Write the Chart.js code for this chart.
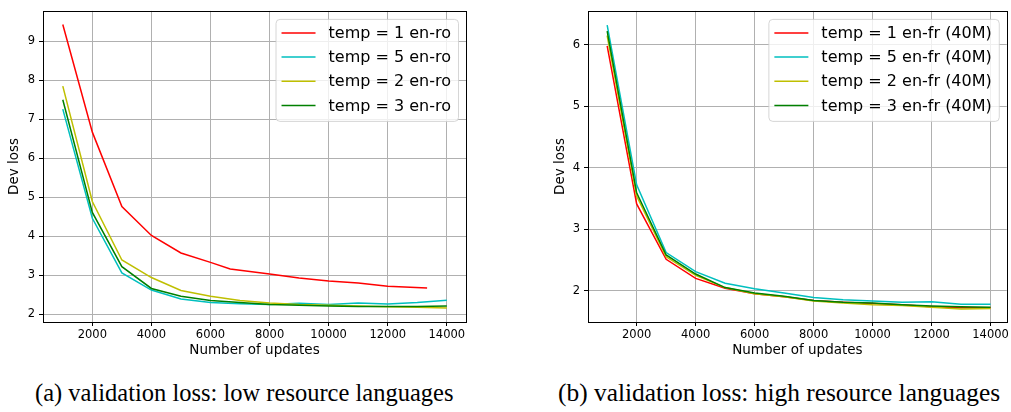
<!DOCTYPE html>
<html>
<head>
<meta charset="utf-8">
<script src="https://cdn.jsdelivr.net/npm/chart.js@4.4.0/dist/chart.umd.min.js"></script>
<style>
  body { margin: 0; background: #fff; width: 1011px; height: 412px; overflow: hidden; position: relative; }
  .plot { position: absolute; top: 0; height: 365px; }
  #plotA { left: 0; width: 480px; }
  #plotB { left: 546px; width: 465px; }
  .caption { position: absolute; font-family: "Liberation Serif", serif; color: #000; white-space: nowrap; line-height: 1; }
</style>
</head>
<body>
<div class="plot" id="plotA"><canvas id="chartA"></canvas></div>
<div class="plot" id="plotB"><canvas id="chartB"></canvas></div>
<div class="caption" style="left:35px; top:381px; font-size:24.5px">(a) validation loss: low resource languages</div>
<div class="caption" style="left:558px; top:380px; font-size:25.4px">(b) validation loss: high resource languages</div>
<script>
// ── Data ────────────────────────────────────────────────
const updates = [1000, 2000, 3000, 4000, 5000, 6000, 7000, 8000, 9000, 10000, 11000, 12000, 13000, 14000];
const xTicks = [2000, 4000, 6000, 8000, 10000, 12000, 14000];

// (a) low resource: en-ro
const roTemp1Updates = [1000, 2000, 3000, 4000, 5000, 6000, 6667, 8000, 9000, 10000, 11000, 12000, 13333];
const roTemp1 = [9.43, 6.67, 4.76, 4.02, 3.57, 3.33, 3.16, 3.03, 2.93, 2.85, 2.80, 2.72, 2.67];
const roTemp5 = [7.26, 4.46, 3.06, 2.62, 2.39, 2.30, 2.27, 2.25, 2.28, 2.25, 2.29, 2.26, 2.30, 2.36];
const roTemp2 = [7.85, 4.89, 3.39, 2.94, 2.61, 2.46, 2.35, 2.29, 2.25, 2.23, 2.21, 2.19, 2.18, 2.16];
const roTemp3 = [7.50, 4.61, 3.22, 2.66, 2.46, 2.35, 2.30, 2.25, 2.23, 2.21, 2.20, 2.20, 2.20, 2.21];
const roYTicks = [2, 3, 4, 5, 6, 7, 8, 9];

// (b) high resource: en-fr (40M)
const frTemp1 = [5.98, 3.41, 2.51, 2.20, 2.04, 1.95, 1.90, 1.84, 1.81, 1.79, 1.77, 1.74, 1.72, 1.72];
const frTemp5 = [6.32, 3.72, 2.62, 2.31, 2.12, 2.03, 1.96, 1.89, 1.85, 1.83, 1.81, 1.82, 1.78, 1.78];
const frTemp2 = [6.15, 3.54, 2.55, 2.25, 2.05, 1.95, 1.90, 1.83, 1.80, 1.77, 1.76, 1.73, 1.70, 1.71];
const frTemp3 = [6.22, 3.59, 2.58, 2.27, 2.05, 1.96, 1.91, 1.84, 1.81, 1.80, 1.77, 1.75, 1.74, 1.73];
const frYTicks = [2, 3, 4, 5, 6];

const RED = '#ff0000', CYAN = '#00bfbf', YELLOW = '#bfbf00', GREEN = '#008000';
const FONT = 'DejaVu Sans';

const pts = (xs, ys) => ys.map((y, i) => ({ x: xs[i], y }));

// ── Plugin: full frame + matplotlib-style legend ────────
const frameLegend = {
    id: 'frameLegend',
    afterDraw(chart) {
        const { ctx, chartArea: a } = chart;
        ctx.save();
        ctx.strokeStyle = '#000';
        ctx.lineWidth = 1;
        ctx.strokeRect(Math.round(a.left) + 0.5, Math.round(a.top) + 0.5, Math.round(a.right - a.left), Math.round(a.bottom - a.top));

        const items = chart.data.datasets.map(d => ({ label: d.label, color: d.borderColor }));
        ctx.font = '16px "' + FONT + '"';
        const textW = Math.max(...items.map(it => ctx.measureText(it.label).width));
        const w = 6 + 34 + 13 + textW + 7;
        const h = 102;
        const x = a.right - 8 - w, y = a.top + 8;
        ctx.fillStyle = 'rgba(255,255,255,0.8)';
        ctx.strokeStyle = 'rgba(204,204,204,0.8)';
        ctx.beginPath();
        ctx.roundRect(x + 0.5, y + 0.5, w, h, 4);
        ctx.fill();
        ctx.stroke();
        ctx.textBaseline = 'middle';
        items.forEach((it, i) => {
            const cy = y + 14 + i * 24.2;
            ctx.strokeStyle = it.color;
            ctx.lineWidth = 1.5;
            ctx.beginPath();
            ctx.moveTo(x + 6, cy);
            ctx.lineTo(x + 40, cy);
            ctx.stroke();
            ctx.fillStyle = '#000';
            ctx.fillText(it.label, x + 53, cy + 1);
        });
        ctx.restore();
    }
};

// ── Chart builder ───────────────────────────────────────
function makeChart(id, datasets, yMin, yMax, yTicks, xMin, xMax, yWidth, padRight) {
    return new Chart(document.getElementById(id), {
        type: 'line',
        data: { datasets },
        options: {
            responsive: true,
            maintainAspectRatio: false,
            animation: false,
            layout: { padding: { top: 7, right: padRight, bottom: 0, left: 0 } },
            elements: { point: { radius: 0 }, line: { borderWidth: 1.5, tension: 0 } },
            plugins: { legend: { display: false }, tooltip: { enabled: false } },
            scales: {
                x: {
                    type: 'linear', min: xMin, max: xMax,
                    afterBuildTicks: s => { s.ticks = xTicks.map(v => ({ value: v })); },
                    afterFit: s => { s.height = 43; },
                    grid: { color: '#b0b0b0', lineWidth: 1, tickColor: '#000', tickLength: 4 },
                    border: { display: false },
                    ticks: { color: '#000', font: { family: FONT, size: 11.5 }, padding: 2, maxRotation: 0, autoSkip: false, callback: v => String(v) },
                    title: { display: true, text: 'Number of updates', color: '#000', font: { family: FONT, size: 13.5, lineHeight: 1.2 }, padding: { top: 6, bottom: 6 } }
                },
                y: {
                    type: 'linear', min: yMin, max: yMax,
                    afterBuildTicks: s => { s.ticks = yTicks.map(v => ({ value: v })); },
                    afterFit: s => { s.width = yWidth; },
                    grid: { color: '#b0b0b0', lineWidth: 1, tickColor: '#000', tickLength: 4 },
                    border: { display: false },
                    ticks: { color: '#000', font: { family: FONT, size: 11.5 }, padding: 4, callback: v => String(v) },
                    title: { display: true, text: 'Dev loss', color: '#000', font: { family: FONT, size: 13.5, lineHeight: 1.2 }, padding: { top: 6, bottom: 6 } }
                }
            }
        },
        plugins: [frameLegend]
    });
}

makeChart('chartA', [
    { label: 'temp = 1 en-ro', data: pts(roTemp1Updates, roTemp1), borderColor: RED, order: 3 },
    { label: 'temp = 5 en-ro', data: pts(updates, roTemp5), borderColor: CYAN, order: 2 },
    { label: 'temp = 2 en-ro', data: pts(updates, roTemp2), borderColor: YELLOW, order: 1 },
    { label: 'temp = 3 en-ro', data: pts(updates, roTemp3), borderColor: GREEN, order: 0 }
], 1.8, 9.78, roYTicks, 330, 14650, 43, 14);

makeChart('chartB', [
    { label: 'temp = 1 en-fr (40M)', data: pts(updates, frTemp1), borderColor: RED, order: 3 },
    { label: 'temp = 5 en-fr (40M)', data: pts(updates, frTemp5), borderColor: CYAN, order: 2 },
    { label: 'temp = 2 en-fr (40M)', data: pts(updates, frTemp2), borderColor: YELLOW, order: 1 },
    { label: 'temp = 3 en-fr (40M)', data: pts(updates, frTemp3), borderColor: GREEN, order: 0 }
], 1.49, 6.55, frYTicks, 350, 14550, 42, 4);
</script>
</body>
</html>
